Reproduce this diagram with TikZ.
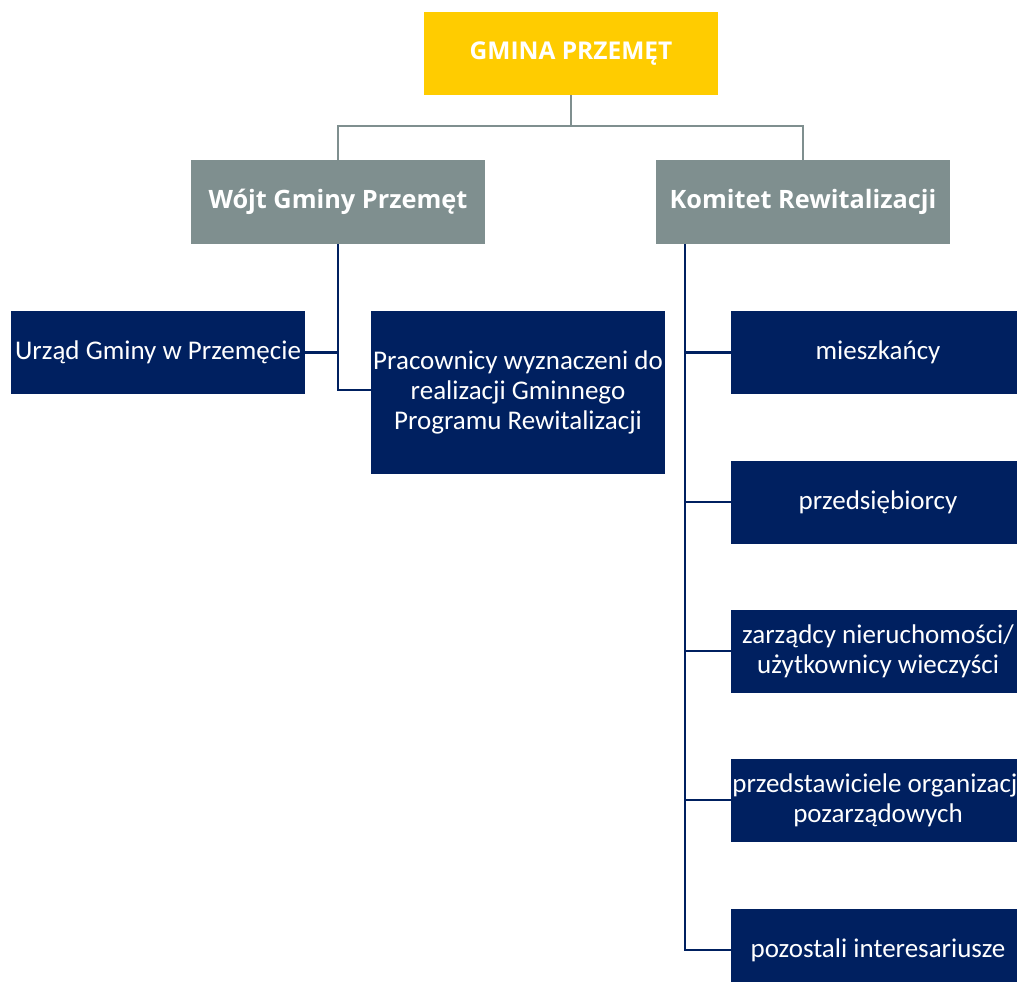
\documentclass[tikz,border=0pt]{standalone}
\usepackage{fontspec}
\setmainfont{Carlito}
\newfontfamily\headfont{Open Sans}
\definecolor{gold}{HTML}{FFCC00}
\definecolor{slate}{HTML}{7F8F8F}
\definecolor{navy}{HTML}{002060}
\begin{document}
\begin{tikzpicture}[x=1pt,y=-1pt,
  topbox/.style={fill=gold,text=white,minimum width=294pt,minimum height=83pt,inner sep=0pt,font=\headfont\bfseries\fontsize{24.5}{28}\selectfont},
  midbox/.style={fill=slate,text=white,minimum width=294pt,minimum height=84pt,inner sep=0pt,font=\headfont\bfseries\fontsize{25.3}{28}\selectfont},
  navybox/.style={fill=navy,text=white,minimum width=294pt,minimum height=83pt,inner sep=0pt,align=center,font=\fontsize{27}{30}\selectfont},
  grayline/.style={draw=slate,line width=2.5pt},
  navyline/.style={draw=navy,line width=2.5pt}]
\useasboundingbox (0,0) rectangle (1017,982);
\clip (0,0) rectangle (1017,982);
\node[topbox] (gmina) at (571,53.5) {GMINA PRZEMĘT};
\node[midbox] (wojt) at (338,202) {Wójt Gminy Przemęt};
\node[midbox] (komitet) at (803,202) {Komitet Rewitalizacji};
\node[navybox] (urzad) at (158,352.5) {Urząd Gminy w Przemęcie};
\node[navybox,minimum height=163pt] (prac) at (518,392) {Pracownicy wyznaczeni do\\realizacji Gminnego\\Programu Rewitalizacji};
\node[navybox] (m1) at (878,352.5) {mieszkańcy};
\node[navybox] (m2) at (878,502) {przedsiębiorcy};
\node[navybox] (m3) at (878,651) {zarządcy nieruchomości/\\użytkownicy wieczyści};
\node[navybox] (m4) at (878,800) {przedstawiciele organizacji\\pozarządowych};
\node[navybox] (m5) at (878,950) {pozostali interesariusze};
\coordinate (hub) at (571,126);
\draw[grayline] (gmina.south) -- (hub);
\draw[grayline] (hub) -| (wojt.north);
\draw[grayline] (hub) -| (komitet.north);
\draw[navyline] (wojt.south) |- ([yshift=2pt]prac.west);
\draw[navyline] (urzad.east) -- (urzad.east -| wojt.south);
\coordinate (kl) at ([xshift=29pt]komitet.south west);
\draw[navyline] (kl) |- (m5.west);
\foreach \n in {m1,m2,m3,m4} \draw[navyline] (kl |- \n.west) -- (\n.west);
\end{tikzpicture}
\end{document}
